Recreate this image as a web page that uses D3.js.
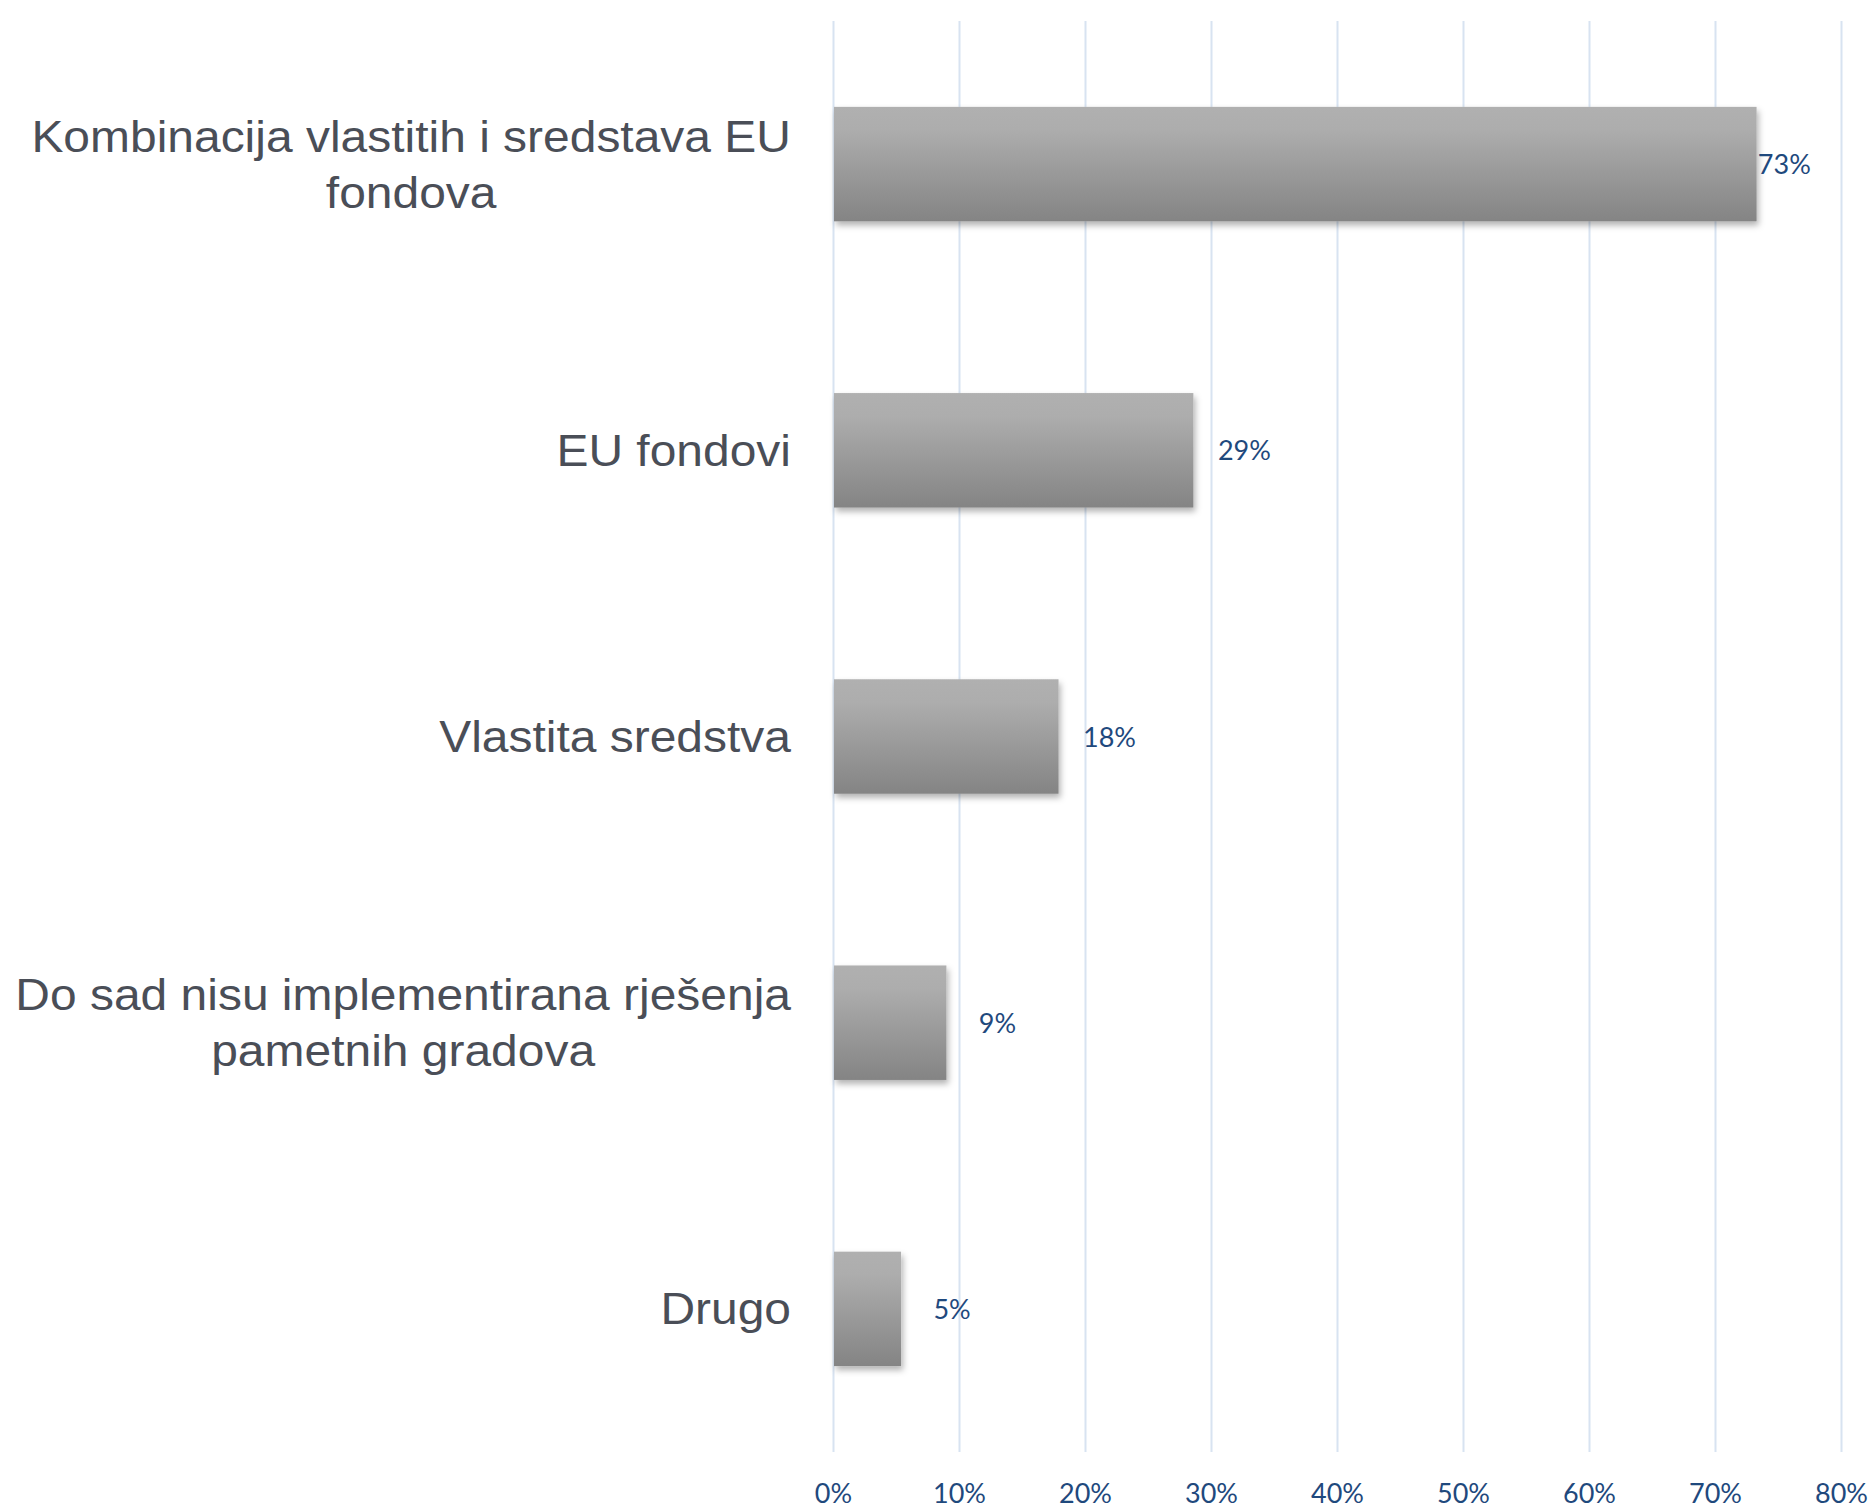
<!DOCTYPE html>
<html>
<head>
<meta charset="utf-8">
<script src="https://cdn.jsdelivr.net/npm/d3@7"></script>
<style>
  html, body { margin: 0; padding: 0; background: #ffffff; }
  svg { display: block; }
</style>
</head>
<body>
<svg id="chart" width="1875" height="1508"></svg>
<script>
// ---- data ----
const categories = [
  "Kombinacija vlastitih i sredstava EU|fondova",
  "EU fondovi",
  "Vlastita sredstva",
  "Do sad nisu implementirana rješenja|pametnih gradova",
  "Drugo"
];
const values = [73.3, 28.6, 17.9, 9.0, 5.4];
const valueLabels = ["73%", "29%", "18%", "9%", "5%"];
const tickValues = [0, 10, 20, 30, 40, 50, 60, 70, 80];
const tickLabels = ["0%", "10%", "20%", "30%", "40%", "50%", "60%", "70%", "80%"];

// ---- layout ----
const W = 1875, H = 1508;
const plot = { left: 833, right: 1841, top: 21, bottom: 1452 };

const svg = d3.select("#chart");

const x = d3.scaleLinear().domain([0, 80]).range([plot.left, plot.right]);
const y = d3.scaleBand().domain(d3.range(categories.length))
  .range([plot.top, plot.bottom]).paddingInner(0.6).paddingOuter(0.3);

// defs
const defs = svg.append("defs");
const grad = defs.append("linearGradient").attr("id", "barGrad")
  .attr("x1", 0).attr("y1", 0).attr("x2", 0).attr("y2", 1);
grad.append("stop").attr("offset", "0%").attr("stop-color", "#b0b0b0");
grad.append("stop").attr("offset", "20%").attr("stop-color", "#adadad");
grad.append("stop").attr("offset", "100%").attr("stop-color", "#848484");
const filt = defs.append("filter").attr("id", "shadow")
  .attr("x", "-10%").attr("y", "-10%").attr("width", "130%").attr("height", "140%");
filt.append("feDropShadow").attr("dx", 2).attr("dy", 4).attr("stdDeviation", 3)
  .attr("flood-color", "#000").attr("flood-opacity", 0.3);

// gridlines via axis
const gridAxis = d3.axisBottom(x).tickValues(tickValues)
  .tickSize(-(plot.bottom - plot.top)).tickFormat("");
const grid = svg.append("g").attr("transform", `translate(0,${plot.bottom})`).call(gridAxis);
grid.select(".domain").remove();
grid.selectAll(".tick line").attr("stroke", "#d8e3f1").attr("stroke-width", 2);

// tick labels
const labelAxis = d3.axisBottom(x).tickValues(tickValues)
  .tickSize(0).tickPadding(0).tickFormat((d, i) => tickLabels[i]);
const la = svg.append("g").attr("transform", `translate(0,1503)`).call(labelAxis);
la.select(".domain").remove();
la.selectAll(".tick text")
  .attr("y", 0).attr("dy", 0)
  .attr("font-family", "Lato, 'Open Sans', sans-serif")
  .attr("font-size", 27).attr("fill", "#1f497d");

// bars
svg.append("g").selectAll("rect").data(values).join("rect")
  .attr("x", x(0) + 1)
  .attr("y", (d, i) => y(i))
  .attr("width", d => x(d) - x(0) - 1)
  .attr("height", y.bandwidth())
  .attr("fill", "url(#barGrad)")
  .attr("filter", "url(#shadow)");

// value labels
svg.append("g").selectAll("text").data(values).join("text")
  .attr("x", d => Math.min(x(d) + 51, x(75.5)))
  .attr("y", (d, i) => y(i) + y.bandwidth() / 2 + 10)
  .attr("text-anchor", "middle")
  .attr("font-family", "Lato, 'Open Sans', sans-serif")
  .attr("font-size", 27)
  .attr("fill", "#1f497d")
  .text((d, i) => valueLabels[i]);

// category labels
const labelRight = 791;
const fs = 44, lineH = 56, capH = 31, stretch = 1.09;
const cg = svg.append("g");
categories.forEach((c, i) => {
  const lines = c.split("|");
  const cy = y(i) + y.bandwidth() / 2;
  const g = cg.append("g");
  const t = g.append("text")
    .attr("font-family", "'Liberation Sans', Arial, Helvetica, sans-serif")
    .attr("font-size", fs)
    .attr("fill", "#4a4e57");
  const n = lines.length;
  const firstBase = cy + capH / 2 - (n - 1) * lineH / 2;
  const tspans = lines.map((l, k) => t.append("tspan").attr("y", firstBase + k * lineH).text(l));
  const widths = tspans.map(s => s.node().getComputedTextLength());
  const maxW = d3.max(widths);
  tspans.forEach(s => s.attr("x", -maxW / 2).attr("text-anchor", "middle"));
  g.attr("transform", `translate(${labelRight},0) scale(${stretch},1)`);
});
</script>
</body>
</html>
